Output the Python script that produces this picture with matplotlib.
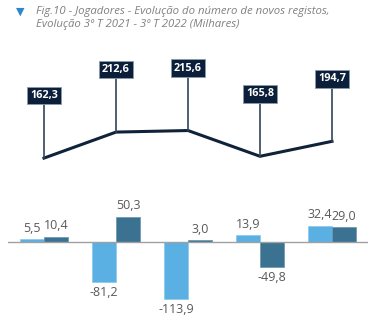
import numpy as np
import matplotlib
matplotlib.use('Agg')
from matplotlib import pyplot as plt

plt.rcParams['font.family'] = ['Open Sans', 'DejaVu Sans']

# data
totals = [162.3, 212.6, 215.6, 165.8, 194.7]
var_a = [5.5, -81.2, -113.9, 13.9, 32.4]
var_b = [10.4, 50.3, 3.0, -49.8, 29.0]

title = ('Fig.10 - Jogadores - Evolução do número de novos registos,\n'
         'Evolução 3º T 2021 - 3º T 2022 (Milhares)')

W, H = 375, 322
fig = plt.figure(figsize=(W / 100, H / 100), dpi=100)

def px_axes(x0, y0, x1, y1):
    # pixel box (top-left origin) -> figure axes
    return fig.add_axes([x0 / W, 1 - y1 / H, (x1 - x0) / W, (y1 - y0) / H])

x = np.arange(len(totals))

# title
fig.text(20 / W, 1 - 11.5 / H, '▼', color='#2f86c8', fontsize=8,
         ha='center', va='center', family=['DejaVu Sans'])
fig.text(36 / W, 1 - 6 / H, title, color='#808080', fontsize=8.2,
         style='italic', ha='left', va='top', linespacing=1.25)

# line chart
ax1 = px_axes(8, 60, 368, 180)
ax1.set_xlim(-0.5, 4.5)
ax1.set_ylim((242 - 180) / 0.517, (242 - 60) / 0.517)
ax1.plot(x, totals, color='#0f2238', lw=2.2, solid_joinstyle='miter')
for xi, v in zip(x, totals):
    ax1.annotate(f'{v:.1f}'.replace('.', ','), xy=(xi, v), xytext=(0, 45),
                 textcoords='offset points', ha='center', va='center',
                 color='white', fontsize=7.8, fontweight='bold',
                 bbox=dict(boxstyle='square,pad=0.3', fc='#0c1f3a',
                           ec='#8a9aa8', lw=0.6),
                 arrowprops=dict(arrowstyle='-', color='#34465a', lw=1.2,
                                 shrinkA=0, shrinkB=0),
                 annotation_clip=False)
ax1.axis('off')

# bar chart
ax2 = px_axes(8, 200, 368, 320)
ax2.set_xlim(-0.5, 4.5)
ax2.set_ylim(-(320 - 241.7) / 0.5, (241.7 - 200) / 0.5)
bw = 0.335
ax2.bar(x - bw / 2, var_a, bw, color='#5aafe3', edgecolor='#8cc8ee', lw=0.5)
ax2.bar(x + bw / 2, var_b, bw, color='#3b7292', edgecolor='#6a94ad', lw=0.5)
ax2.axhline(0, color='#a0a0a0', lw=1)
for xs, vals in ((x - bw / 2, var_a), (x + bw / 2, var_b)):
    for xi, v in zip(xs, vals):
        ax2.annotate(f'{v:.1f}'.replace('.', ','), xy=(xi, v),
                     xytext=(0, 3 if v >= 0 else -3), textcoords='offset points',
                     ha='center', va='bottom' if v >= 0 else 'top',
                     color='#595959', fontsize=9, annotation_clip=False)
ax2.axis('off')

plt.savefig('out.png', dpi=100)
